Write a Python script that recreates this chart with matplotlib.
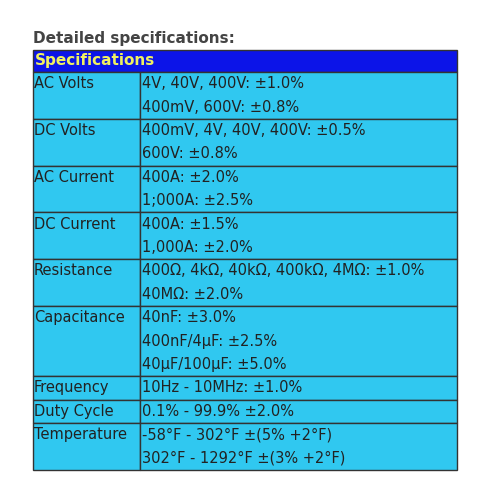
import matplotlib.pyplot as plt
from matplotlib.patches import Rectangle

title = "Detailed specifications:"
header = "Specifications"
params = ["AC Volts", "DC Volts", "AC Current", "DC Current", "Resistance",
          "Capacitance", "Frequency", "Duty Cycle", "Temperature"]
specs = [
    ["4V, 40V, 400V: ±1.0%", "400mV, 600V: ±0.8%"],
    ["400mV, 4V, 40V, 400V: ±0.5%", "600V: ±0.8%"],
    ["400A: ±2.0%", "1;000A: ±2.5%"],
    ["400A: ±1.5%", "1,000A: ±2.0%"],
    ["400Ω, 4kΩ, 40kΩ, 400kΩ, 4MΩ: ±1.0%", "40MΩ: ±2.0%"],
    ["40nF: ±3.0%", "400nF/4μF: ±2.5%", "40μF/100μF: ±5.0%"],
    ["10Hz - 10MHz: ±1.0%"],
    ["0.1% - 99.9% ±2.0%"],
    ["-58°F - 302°F ±(5% +2°F)", "302°F - 1292°F ±(3% +2°F)"],
]

W, H = 495, 500
fig = plt.figure(figsize=(W / 100, H / 100), dpi=100)
ax = fig.add_axes([0, 0, 1, 1])
ax.set_xlim(0, W)
ax.set_ylim(H, 0)
ax.axis("off")

x0, x1, xm = 33, 457, 140
line_h = 23.4
cyan = "#30c8f0"
txt = "#222222"
fs = 10.5

ax.text(x0, 38, title, fontsize=11, fontweight="bold", color="#444444", va="center")

y = 50
ax.add_patch(Rectangle((x0, y), x1 - x0, 22, facecolor="#0c14e8", edgecolor="#333333", lw=1))
ax.text(x0 + 2, y + 11, header, fontsize=11, fontweight="bold", color="#f0f060", va="center")
y += 22

for p, s in zip(params, specs):
    h = line_h * len(s)
    ax.add_patch(Rectangle((x0, y), xm - x0, h, facecolor=cyan, edgecolor="#333333", lw=1))
    ax.add_patch(Rectangle((xm, y), x1 - xm, h, facecolor=cyan, edgecolor="#333333", lw=1))
    ax.text(x0 + 1, y + line_h / 2, p, fontsize=fs, color=txt, va="center")
    for i, line in enumerate(s):
        ax.text(xm + 2, y + line_h * (i + 0.5), line, fontsize=fs, color=txt, va="center")
    y += h

fig.savefig("out.png", dpi=100, facecolor="white")
